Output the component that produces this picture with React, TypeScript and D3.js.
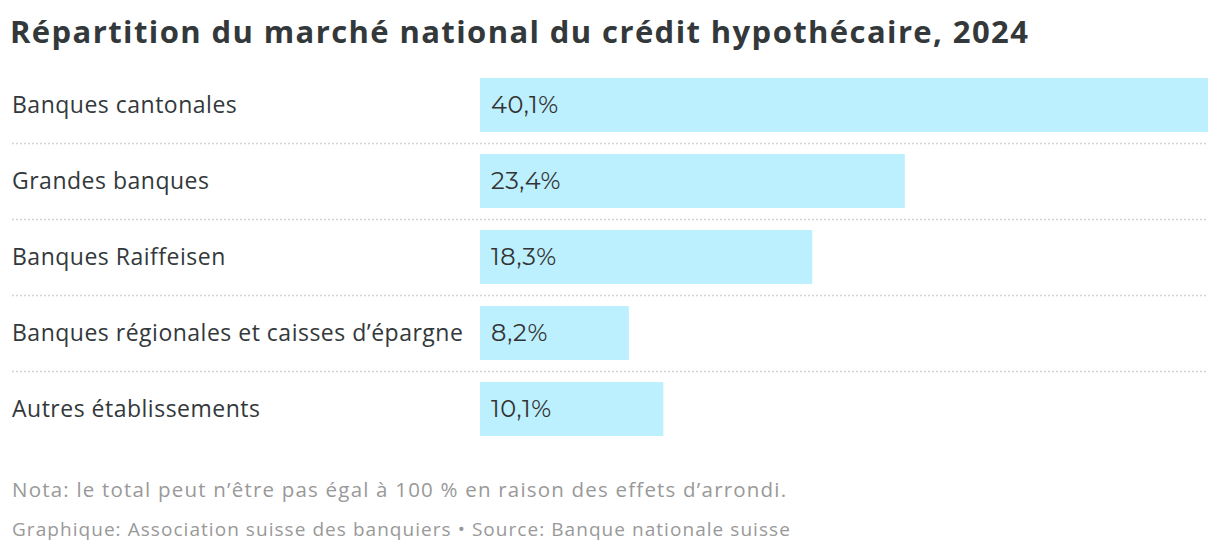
import React from "react";
import * as d3 from "d3";

const categories = [
  "Banques cantonales",
  "Grandes banques",
  "Banques Raiffeisen",
  "Banques régionales et caisses d’épargne",
  "Autres établissements",
];
const values = [40.1, 23.4, 18.3, 8.2, 10.1];
const valueLabels = ["40,1%", "23,4%", "18,3%", "8,2%", "10,1%"];

const title = "Répartition du marché national du crédit hypothécaire, 2024";
const note = "Nota: le total peut n’être pas égal à 100 % en raison des effets d’arrondi.";
const credit = "Graphique: Association suisse des banquiers • Source: Banque nationale suisse";

const W = 1220;
const H = 556;

export default function App() {
  const x = d3.scaleLinear().domain([0, d3.max(values) as number]).range([480, 1208]);
  const y = d3
    .scaleBand<string>()
    .domain(categories)
    .range([67, 67 + 76 * categories.length])
    .paddingInner(0.29)
    .paddingOuter(0.145);
  const step = y.step();
  return (
    <svg width={W} height={H} style={{ position: "absolute", left: 0, top: 0, background: "#fff" }}>
      <text x={10} y={43} fontFamily="'Open Sans', sans-serif" fontWeight={700} fontSize={31} letterSpacing={1.4} fill="#33383b">
        {title}
      </text>
      {categories.map((c, i) => {
        const by = y(c) as number;
        const bh = y.bandwidth();
        const cy = by + bh / 2;
        return (
          <g key={c}>
            <rect x={x(0)} y={by} width={x(values[i]) - x(0)} height={bh} fill="#bdf0fe" />
            <text x={12} y={cy} dy="0.35em" fontFamily="'Open Sans', sans-serif" fontSize={23} letterSpacing={0.5} fill="#33383b">
              {c}
            </text>
            <text x={x(0) + 11} y={cy} dy="0.35em" fontFamily="Montserrat, 'Open Sans', sans-serif" fontSize={24} letterSpacing={0.6} fill="#333">
              {valueLabels[i]}
            </text>
            {i < categories.length - 1 && (
              <line
                x1={12}
                x2={1208}
                y1={by + bh + (step - bh) / 2 + 0.5}
                y2={by + bh + (step - bh) / 2 + 0.5}
                stroke="#d4d4d4"
                strokeWidth={1.5}
                strokeDasharray="2,2"
              />
            )}
          </g>
        );
      })}
      <text x={12} y={497} fontFamily="'Open Sans', sans-serif" fontSize={20.5} letterSpacing={1.2} fill="#999">
        {note}
      </text>
      <text x={12} y={536} fontFamily="'Open Sans', sans-serif" fontSize={19} letterSpacing={1.05} fill="#999">
        {credit}
      </text>
    </svg>
  );
}
